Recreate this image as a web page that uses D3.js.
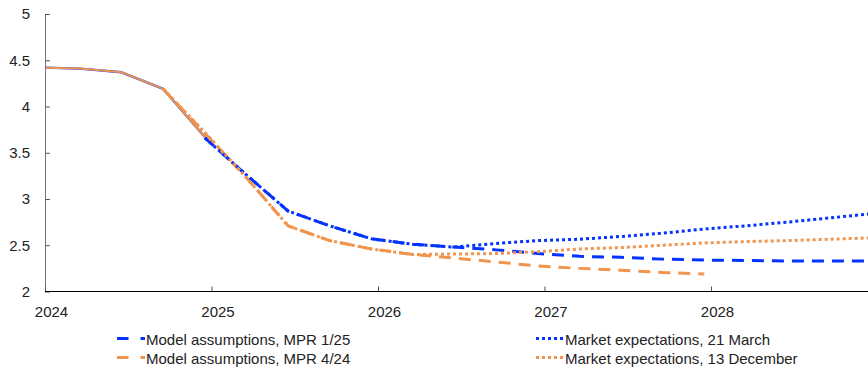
<!DOCTYPE html>
<html>
<head>
<meta charset="utf-8">
<script src="https://cdn.jsdelivr.net/npm/d3@7"></script>
<style>
  html, body { margin: 0; padding: 0; background: #fff; }
  svg { display: block; font-family: "Liberation Sans", Arial, sans-serif; }
</style>
</head>
<body>
<svg id="chart" width="868" height="369"></svg>
<script>
// ---- data ----
const yearTicks = [2024, 2025, 2026, 2027, 2028];
const yTicks = [2, 2.5, 3, 3.5, 4, 4.5, 5];

const histTime = [2024.0, 2024.21, 2024.46, 2024.71, 2024.96];
const histValue = [4.42, 4.41, 4.37, 4.19, 3.67];

const blueTime = [2024.96, 2025.21, 2025.46, 2025.71, 2025.96, 2026.21, 2026.46, 2026.71, 2026.96,
                  2027.21, 2027.46, 2027.71, 2027.96, 2028.21, 2028.46, 2028.71, 2028.96];
const modelMPR125 = [3.66, 3.26, 2.87, 2.71, 2.57, 2.51, 2.48, 2.45, 2.41,
                     2.38, 2.37, 2.35, 2.34, 2.335, 2.33, 2.33, 2.33];
const market21Mar = [3.66, 3.26, 2.87, 2.71, 2.57, 2.51, 2.48, 2.52, 2.55,
                     2.565, 2.595, 2.63, 2.676, 2.71, 2.75, 2.795, 2.84];

const orangeTime = [2024.71, 2024.96, 2025.21, 2025.46, 2025.71, 2025.96, 2026.21, 2026.46, 2026.71, 2026.96,
                    2027.21, 2027.46, 2027.71, 2027.96, 2028.21, 2028.46, 2028.71, 2028.96];
const modelMPR424 = [4.19, 3.71, 3.23, 2.71, 2.55, 2.46, 2.40, 2.36, 2.32, 2.275,
                     2.25, 2.23, 2.205, 2.19];
const market13Dec = [4.19, 3.72, 3.23, 2.71, 2.55, 2.46, 2.40, 2.405, 2.41, 2.43,
                     2.46, 2.475, 2.50, 2.525, 2.54, 2.55, 2.565, 2.58];

const legendLabels = ["Model assumptions, MPR 1/25", "Model assumptions, MPR 4/24",
                      "Market expectations, 21 March", "Market expectations, 13 December"];

// ---- styles ----
const BLUE = "#0433ff";
const ORANGE = "#f0954e";
const DASH = "12,8";
const DOT = "3,3";

const svg = d3.select("#chart");
const mLeft = 45, mRight = 868, mTop = 14, mBottom = 291.5;

const x = d3.scaleLinear().domain([2024, 2029]).range([mLeft, mLeft + 5 * 166.5]);
const y = d3.scaleLinear().domain([2, 5]).range([mBottom, mTop]);

svg.append("defs").append("clipPath").attr("id", "plot")
  .append("rect").attr("x", mLeft).attr("y", 0).attr("width", mRight - mLeft).attr("height", mBottom + 2);

const line = d3.line().x(d => x(d[0])).y(d => y(d[1]));
const zip = (t, v) => v.map((val, i) => [t[i], val]);

const g = svg.append("g").attr("clip-path", "url(#plot)");

function draw(data, color, dash, width) {
  g.append("path").datum(data)
    .attr("fill", "none")
    .attr("stroke", color)
    .attr("stroke-width", width)
    .attr("stroke-dasharray", dash)
    .attr("stroke-linejoin", "round")
    .attr("d", line);
}

draw(zip(histTime, histValue), BLUE, null, 2.4);
draw(zip(histTime, histValue), ORANGE, null, 2);
draw(zip(blueTime, modelMPR125), BLUE, DASH, 3);
draw(zip(orangeTime, modelMPR424), ORANGE, DASH, 3);
draw(zip(blueTime, market21Mar), BLUE, DOT, 3);
draw(zip(orangeTime, market13Dec), ORANGE, DOT, 3);

// ---- axes ----
const yAxis = svg.append("g").attr("transform", `translate(${mLeft},0)`)
  .call(d3.axisLeft(y).tickValues(yTicks).tickFormat(d3.format("")).tickSizeInner(-5).tickSizeOuter(0).tickPadding(15));
yAxis.select(".domain").attr("stroke", "#777");
yAxis.selectAll(".tick line").attr("stroke", "#555");
yAxis.selectAll(".tick text").attr("font-size", 15).attr("fill", "#222")
  .attr("font-family", "Liberation Sans, Arial, sans-serif");

const xAxis = svg.append("g").attr("transform", `translate(0,${mBottom})`)
  .call(d3.axisBottom(x).tickValues(yearTicks).tickFormat(d3.format("d")).tickSizeInner(-5).tickSizeOuter(0).tickPadding(15));
xAxis.select(".domain").remove();
xAxis.append("line").attr("x1", mLeft).attr("x2", mRight).attr("y1", 0).attr("y2", 0)
  .attr("stroke", "#000").attr("stroke-width", 1.2);
xAxis.selectAll(".tick line").attr("stroke", "#555");
xAxis.selectAll(".tick text").attr("font-size", 15).attr("fill", "#222").attr("dx", 6)
  .attr("font-family", "Liberation Sans, Arial, sans-serif");

// ---- legend ----
const legendItems = [
  {label: legendLabels[0], color: BLUE, dash: "11.5,12", x: 117, y: 338.5},
  {label: legendLabels[1], color: ORANGE, dash: "11.5,12", x: 117, y: 357.5},
  {label: legendLabels[2], color: BLUE, dash: DOT, x: 536, y: 338.5},
  {label: legendLabels[3], color: ORANGE, dash: DOT, x: 536, y: 357.5}
];
const lg = svg.append("g").selectAll("g").data(legendItems).join("g");
lg.append("line")
  .attr("x1", d => d.x).attr("x2", d => d.x + 28)
  .attr("y1", d => d.y).attr("y2", d => d.y)
  .attr("stroke", d => d.color).attr("stroke-width", 3)
  .attr("stroke-dasharray", d => d.dash);
lg.append("text")
  .attr("x", d => d.x + 29).attr("y", d => d.y + 1)
  .attr("dy", "0.35em")
  .attr("font-size", 15).attr("fill", "#222")
  .text(d => d.label);
</script>
</body>
</html>
